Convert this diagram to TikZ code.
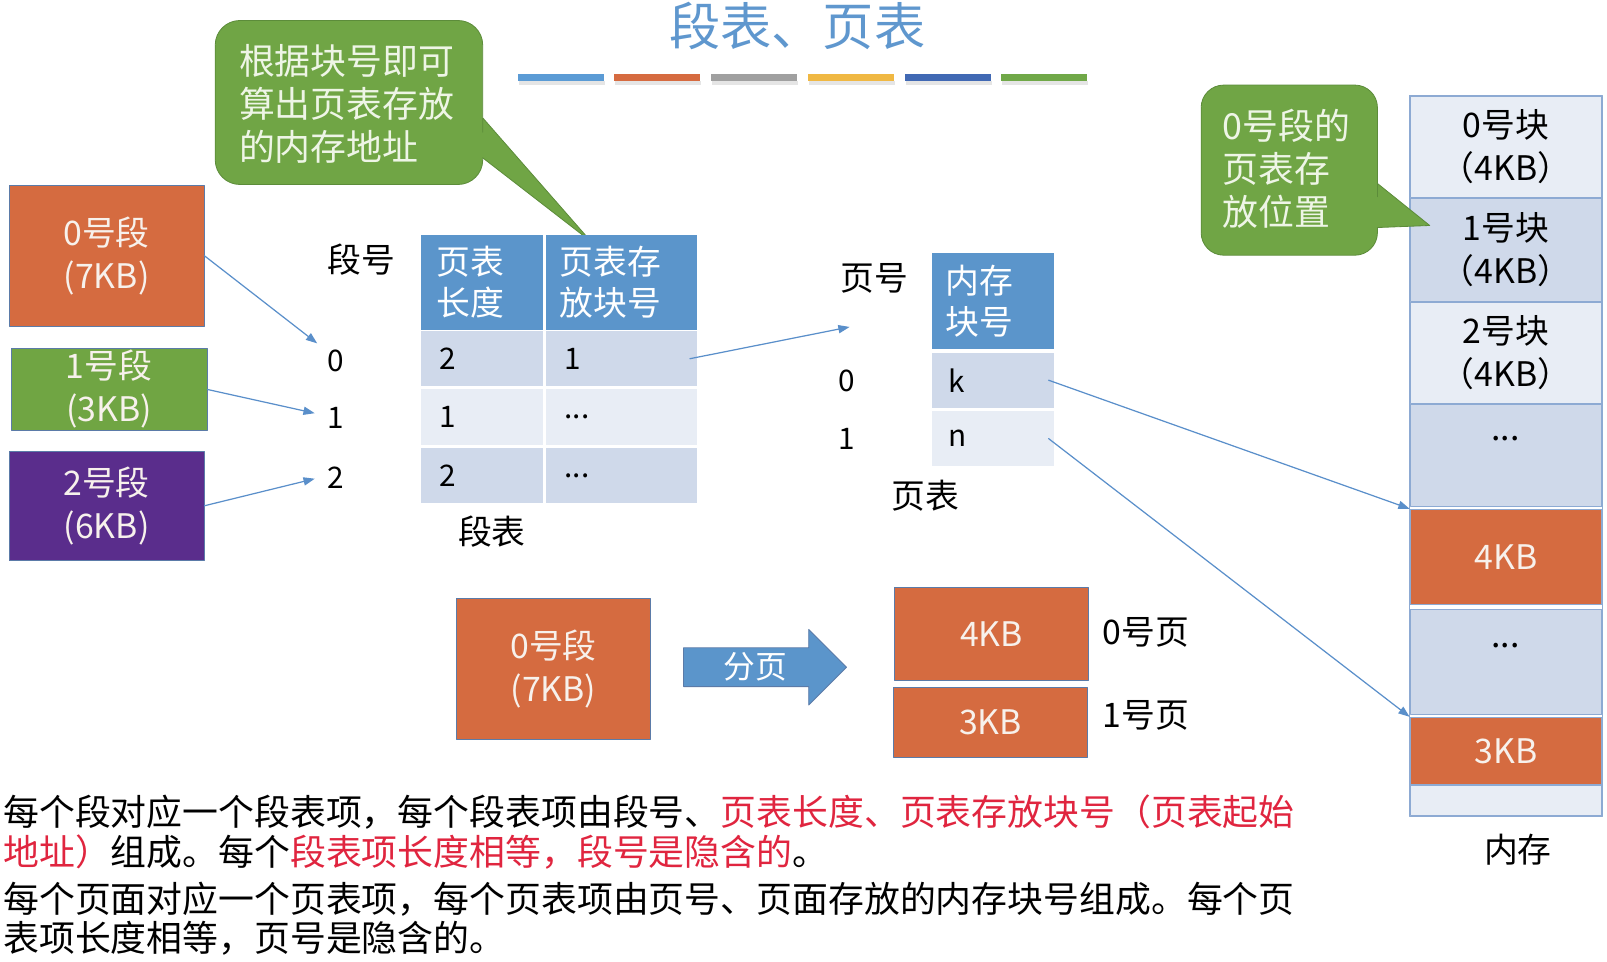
\documentclass[tikz,border=0pt]{standalone}
\usepackage{fontspec}
\setmainfont{Noto Sans CJK SC}
\usepackage{tikz}
\usetikzlibrary{positioning,calc,shapes.arrows,arrows.meta}

\definecolor{segorange}{HTML}{D56B40}
\definecolor{seggreen}{HTML}{70A543}
\definecolor{segpurple}{HTML}{5A2D8C}
\definecolor{hdrblue}{HTML}{5B95CB}
\definecolor{rowdark}{HTML}{CFD9EA}
\definecolor{rowlight}{HTML}{E8EDF5}
\definecolor{arrblue}{HTML}{5A8FCA}
\definecolor{titleblue}{HTML}{5F97CE}
\definecolor{hlred}{HTML}{E0253F}
\definecolor{bubble}{HTML}{70A545}
\definecolor{bubbleline}{HTML}{5C8C3A}
\definecolor{bubbletxt}{HTML}{EEF5E6}
\definecolor{boxline}{HTML}{5B7BA8}
\definecolor{memline}{HTML}{8DAAD3}
\definecolor{boxtxt}{HTML}{F7F1EC}
\definecolor{barA}{HTML}{5B9BD5}
\definecolor{barB}{HTML}{D66B40}
\definecolor{barC}{HTML}{A0A0A0}
\definecolor{barD}{HTML}{F0B843}
\definecolor{barE}{HTML}{4169B4}
\definecolor{barF}{HTML}{70A848}

\begin{document}
\begin{tikzpicture}[
					x=1pt,y=-1pt,
					>={Triangle[length=11pt,width=8pt]},
					line cap=round,line join=round,
					every node/.style={inner sep=0pt},
					fz/.style 2 args={font=\fontsize{#1}{#2}\selectfont},
					blk/.style={draw=boxline, line width=0.8pt, text=boxtxt, align=center, minimum width=190pt, fz={33}{42}},
					hdr/.style={fill=hdrblue, text=white, align=left, fz={33}{40}},
					cell/.style={align=left, inner xsep=18pt, minimum height=54pt, fz={29}{34}},
					mem/.style={draw=memline, line width=1.2pt, minimum width=187pt, align=center, fz={33}{42}},
					lbl/.style={fz={33}{40}},
					num/.style={fz={29}{34}},
					link/.style={->, arrblue, line width=1.2pt},
					bubblebox/.style={fill=bubble, draw=bubbleline, line width=0.8pt},
					bubbletext/.style={text=bubbletxt, align=left, fz={35}{42}},
					note/.style={fz={35}{39}}
					]
					%----- frame
					\useasboundingbox (0,0) rectangle (1568,938);
					
					%----- title + colour bars
					\node[fz={50}{56}, text=titleblue] (title) at (778,25) {段表、页表};
					\foreach \bc [count=\i from 0] in {barA,barB,barC,barD,barE,barF}{
						\fill[black!10] ({506+94.4*\i},79) rectangle ++(84,4);
						\fill[\bc] ({505+94.4*\i},72) rectangle ++(84,7);
					}
					
					%----- callout: block number -> address
					\draw[bubblebox] (210,100) [rounded corners=24pt]-- (210,20) -- (471,20) -- (471,105)
					[sharp corners]-- (471,115) -- (577,236) -- (471,154) -- (471,155)
					[rounded corners=24pt]-- (471,180) -- (210,180) -- cycle;
					\node[bubbletext, anchor=west] (addrtxt) at (233,101) {根据块号即可\\算出页表存放\\的内存地址};
					
					%----- segments on the left
					\node[blk, fill=segorange, minimum height=137pt] (seg0) at (104,249.5) {0号段\\(7KB)};
					\node[blk, fill=seggreen, minimum width=191pt, minimum height=80pt] (seg1) at (106.5,380) {1号段\\(3KB)};
					\node[blk, fill=segpurple, minimum height=107pt] (seg2) at (104,493.5) {2号段\\(6KB)};
					
					% segment numbers
					\node[lbl] (segno) at (353,253) {段号};
					\node[num] (n0) at (328,352) {0};
					\node[num] (n1) at (328,408) {1};
					\node[num] (n2) at (328,466) {2};
					
					\draw[link, shorten >=13pt] (seg0.east) -- ([yshift=9pt]n0.west);
					\draw[link, shorten >=13pt] (seg1.east) -- ([yshift=2pt]n1.west);
					\draw[link, shorten >=13pt] (seg2.east) -- ([yshift=2pt]n2.west);
					
					%----- segment table
					\node[hdr, text width=89pt, inner xsep=15pt, minimum height=93pt] (sh1) at (470.5,275.5) {页表\\长度};
					\node[hdr, text width=121pt, inner xsep=13pt, minimum height=93pt] (sh2) at (606.5,275.5) {页表存\\放块号};
					% row 0
					\node[cell, fill=rowdark, text width=83pt] (sa0) at (470.5,350) {2};
					\node[cell, fill=rowdark, text width=111pt] (sb0) at (606.5,350) {1};
					% row 1
					\node[cell, fill=rowlight, text width=83pt] (sa1) at (470.5,407) {1};
					\node[cell, fill=rowlight, text width=111pt] (sb1) at (606.5,407) {...};
					% row 2
					\node[cell, fill=rowdark, text width=83pt] (sa2) at (470.5,464) {2};
					\node[cell, fill=rowdark, text width=111pt] (sb2) at (606.5,464) {...};
					\node[lbl] (segtbl) at (480,519) {段表};
					
					%----- page table
					\coordinate (pgIn) at (829,319);
					\draw[link] ([xshift=-7pt]sb0.east) -- (pgIn);
					
					\node[lbl] (pgno) at (853,272) {页号};
					\node[hdr, text width=91pt, inner xsep=14pt, minimum height=94pt] (ph) at (968.5,294) {内存\\块号};
					\node[cell, fill=rowdark, text width=87pt, inner xsep=16pt] (pk) at (968.5,371) {k};
					\node[cell, fill=rowlight, text width=87pt, inner xsep=16pt] (pn) at (968.5,428) {n};
					\node[num] (p0) at (826,372) {0};
					\node[num] (p1) at (826,428) {1};
					\node[lbl] (pgtbl) at (903,484) {页表};
					
					%----- memory
					\node[mem, fill=rowlight, minimum height=99pt] (m0) at (1469.5,143.5) {0号块\\（4KB）};
					\node[mem, fill=rowdark, minimum height=100pt] (m1) at (1469.5,244) {1号块\\（4KB）};
					\node[mem, fill=rowlight, minimum height=99pt] (m2) at (1469.5,344.5) {2号块\\（4KB）};
					\node[mem, fill=rowdark, minimum height=99pt] (m3) at (1469.5,444.5) {};
					\node[mem, fill=segorange, text=boxtxt, minimum height=93pt] (m4) at (1469.5,543.5) {4KB};
					\node[mem, fill=rowdark, minimum height=102pt] (m5) at (1469.5,646) {};
					\node[mem, fill=segorange, text=boxtxt, minimum height=66pt] (m6) at (1469.5,733) {3KB};
					\node[mem, fill=rowlight, minimum height=30pt] (m7) at (1469.5,781) {};
					\draw[memline, line width=1.5pt] (m0.north west) rectangle (m7.south east);
					\node[lbl] (d3) at (1469,428) {...};
					\node[lbl] (d5) at (1469,630) {...};
					\node[lbl] (memlbl) at (1481,829) {内存};
					
					\draw[link] ([xshift=-5pt]pk.east) -- (m4.north west);
					\draw[link] ([xshift=-5pt]pn.east) -- (m6.north west);
					
					%----- callout: where the page table sits
					\draw[bubblebox] (1172,160) [rounded corners=22pt]-- (1172,83) -- (1344,83) -- (1344,170)
					[sharp corners]-- (1344,179) -- (1395,220) -- (1344,222) -- (1344,225)
					[rounded corners=22pt]-- (1344,249) -- (1172,249) -- cycle;
					\node[bubbletext, anchor=west] (pttxt) at (1193,165) {0号段的\\页表存\\放位置};
					
					%----- segment 0 split into pages
					\node[blk, fill=segorange, minimum height=137pt] (bseg) at (540,652.5) {0号段\\(7KB)};
					\node[single arrow, single arrow head extend=18pt, inner ysep=4.5pt, inner xsep=6pt,
					minimum height=159pt, fill=hdrblue, draw=boxline, line width=0.8pt, text=white, fz={31}{36}] (split) at (737,651) {分页};
					\node[blk, fill=segorange, minimum width=189pt, minimum height=91pt] (pg0) at (967.5,618.5) {4KB};
					\node[blk, fill=segorange, minimum width=189pt, minimum height=68pt] (pg1) at (966.5,705) {3KB};
					\node[lbl, anchor=west] (pg0lbl) at (1076,617) {0号页};
					\node[lbl, anchor=west] (pg1lbl) at (1076,698) {1号页};
					
					%----- notes at the bottom
					\node[note, anchor=west] (t1) at (3,792) {每个段对应一个段表项，每个段表项由段号、\textcolor{hlred}{页表长度、页表存放块号（页表起始}};
					\node[note, anchor=west] (t2) at (3,831) {\textcolor{hlred}{地址）}组成。每个\textcolor{hlred}{段表项长度相等，段号是隐含的}。};
					\node[note, anchor=west] (t3) at (3,877) {每个页面对应一个页表项，每个页表项由页号、页面存放的内存块号组成。每个页};
					\node[note, anchor=west] (t4) at (3,915) {表项长度相等，页号是隐含的。};
					
				\end{tikzpicture}
\end{document}
